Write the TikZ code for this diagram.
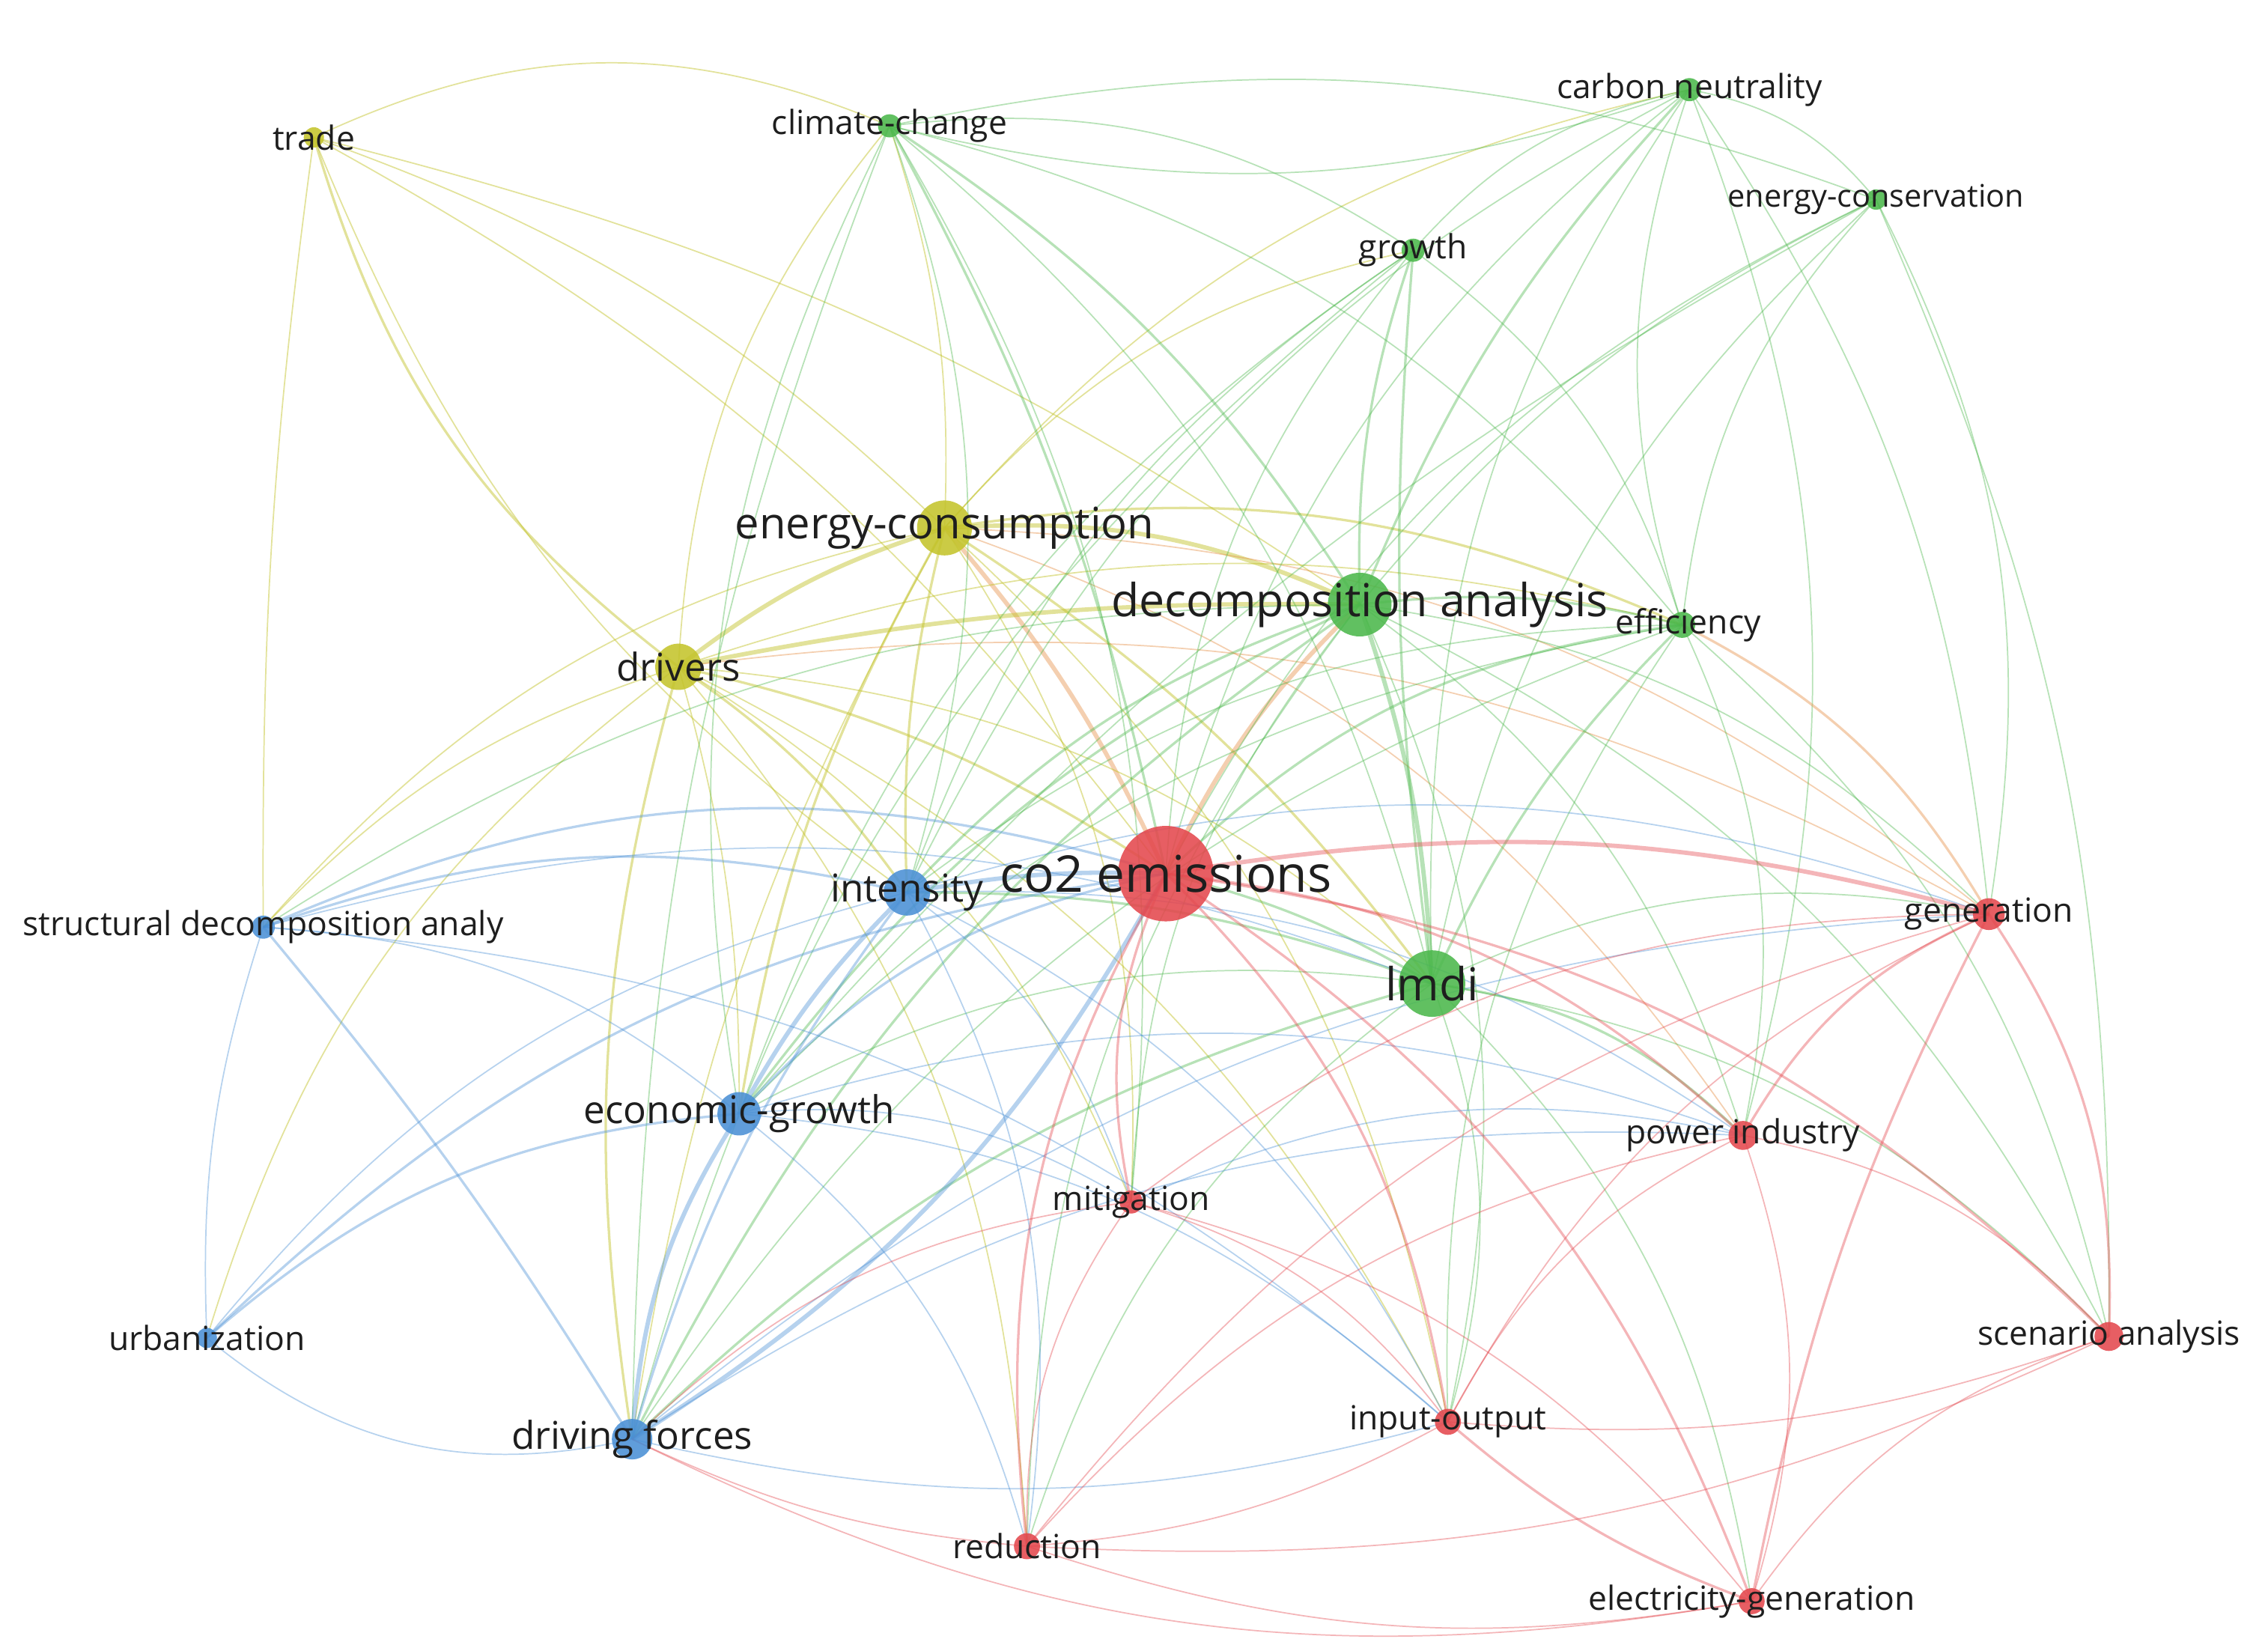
\documentclass[tikz,border=0pt]{standalone}
\usepackage{fontspec}
\setmainfont{Open Sans}
\definecolor{cr}{RGB}{228,72,78}
\definecolor{cg}{RGB}{76,184,76}
\definecolor{cb}{RGB}{74,144,214}
\definecolor{cy}{RGB}{196,196,44}
\definecolor{co}{RGB}{232,150,80}
\definecolor{txt}{RGB}{30,30,30}
\newcommand{\edgeL}[4][bend left=18]{\draw[#2] (#3) to[#1] (#4);}
\begin{document}
\begin{tikzpicture}[x=1pt,y=-1pt,
  er/.style={draw=cr,draw opacity=0.4},
  eg/.style={draw=cg,draw opacity=0.4},
  eb/.style={draw=cb,draw opacity=0.4},
  ey/.style={draw=cy,draw opacity=0.48},
  eo/.style={draw=co,draw opacity=0.45},
  w1/.style={line width=0.9pt},
  w2/.style={line width=1.7pt},
  w3/.style={line width=3pt},
  dot/.style={circle,inner sep=0pt,draw=none,fill opacity=0.88},
  lab/.style={text=txt,inner sep=0pt,anchor=center},
  fa/.style={font=\fontsize{23}{27}\selectfont},
  fb/.style={font=\fontsize{26.5}{30}\selectfont},
  fc/.style={font=\fontsize{30}{34}\selectfont},
  fd/.style={font=\fontsize{31.5}{36}\selectfont},
  fe/.style={font=\fontsize{35}{40}\selectfont}]
\useasboundingbox (0,0) rectangle (1568,1139);
\fill[white] (0,0) rectangle (1568,1139);
% positions
\coordinate (trade) at (217,95);
\coordinate (clim) at (615,87);
\coordinate (carb) at (1168,62);
\coordinate (econs) at (1297,138);
\coordinate (grow) at (977,173);
\coordinate (ecns) at (653,365);
\coordinate (deco) at (940,418);
\coordinate (effi) at (1163,432);
\coordinate (driv) at (469,461);
\coordinate (co2) at (806,604);
\coordinate (inte) at (627,617);
\coordinate (sda) at (182,641);
\coordinate (gene) at (1375,632);
\coordinate (lmdi) at (990,680);
\coordinate (egro) at (511,770);
\coordinate (powr) at (1205,785);
\coordinate (miti) at (782,831);
\coordinate (urba) at (143,925);
\coordinate (scen) at (1458,924);
\coordinate (dfor) at (437,995);
\coordinate (inou) at (1001,983);
\coordinate (redu) at (710,1069);
\coordinate (elec) at (1211,1107);
% yellow edges
\edgeL[bend right=18]{ey,w2}{trade}{driv}
\edgeL[bend right=16]{ey,w1}{trade}{inte}
\edgeL[bend left=12]{ey,w1}{trade}{co2}
\edgeL[bend left=24]{ey,w1}{trade}{clim}
\edgeL[bend left=10]{ey,w1}{trade}{deco}
\edgeL[bend left=12]{ey,w1}{trade}{ecns}
\edgeL[bend right=4]{ey,w1}{trade}{sda}
\edgeL[bend left=10]{ey,w3}{driv}{ecns}
\edgeL[bend left=8]{eo,w3}{ecns}{co2}
\edgeL[bend left=14]{ey,w3}{ecns}{deco}
\edgeL[bend left=16]{ey,w2}{ecns}{effi}
\edgeL[bend left=10]{ey,w2}{ecns}{lmdi}
\edgeL[bend left=8]{ey,w2}{inte}{ecns}
\edgeL[bend left=10]{ey,w2}{egro}{ecns}
\edgeL[bend left=10]{ey,w1}{dfor}{ecns}
\edgeL[bend left=10]{ey,w1}{clim}{ecns}
\edgeL{ey,w1}{ecns}{grow}
\edgeL[bend left=18]{eo,w1}{ecns}{gene}
\edgeL{ey,w1}{sda}{ecns}
\edgeL{ey,w1}{ecns}{miti}
\edgeL{ey,w1}{ecns}{inou}
\edgeL{ey,w1}{ecns}{carb}
\edgeL{eo,w1}{ecns}{powr}
\edgeL[bend left=6]{ey,w3}{driv}{deco}
\edgeL[bend left=10]{ey,w2}{driv}{co2}
\edgeL[bend left=10]{ey,w2}{driv}{inte}
\edgeL[bend left=8]{ey,w1}{driv}{egro}
\edgeL[bend left=12]{ey,w2}{dfor}{driv}
\edgeL{ey,w1}{driv}{lmdi}
\edgeL[bend left=16]{ey,w1}{driv}{effi}
\edgeL[bend left=14]{ey,w1}{sda}{driv}
\edgeL{ey,w1}{urba}{driv}
\edgeL{ey,w1}{driv}{clim}
\edgeL{ey,w1}{driv}{miti}
\edgeL{ey,w1}{driv}{inou}
\edgeL{ey,w1}{driv}{redu}
\edgeL[bend left=18]{eo,w1}{driv}{gene}
% green edges
\edgeL[bend left=8]{eg,w3}{deco}{lmdi}
\edgeL[bend left=10]{eo,w3}{co2}{deco}
\edgeL[bend left=14]{eg,w2}{inte}{deco}
\edgeL[bend left=10]{eg,w2}{deco}{effi}
\edgeL[bend left=10]{eg,w2}{deco}{grow}
\edgeL[bend left=12]{eg,w2}{clim}{deco}
\edgeL[bend left=10]{eg,w2}{deco}{carb}
\edgeL[bend left=12]{eg,w1}{deco}{econs}
\edgeL[bend left=14]{eg,w2}{egro}{deco}
\edgeL[bend left=14]{eg,w2}{dfor}{deco}
\edgeL{eg,w1}{deco}{gene}
\edgeL{eg,w1}{deco}{powr}
\edgeL{eg,w1}{deco}{inou}
\edgeL{eg,w1}{miti}{deco}
\edgeL{eg,w1}{redu}{deco}
\edgeL[bend left=16]{eg,w1}{sda}{deco}
\edgeL{eg,w1}{deco}{scen}
\edgeL[bend left=8]{eg,w2}{co2}{lmdi}
\edgeL[bend left=10]{eg,w2}{lmdi}{effi}
\edgeL[bend left=6]{eg,w2}{lmdi}{grow}
\edgeL{eg,w1}{lmdi}{carb}
\edgeL{eg,w1}{clim}{lmdi}
\edgeL[bend left=10]{eg,w2}{inte}{lmdi}
\edgeL{eg,w1}{egro}{lmdi}
\edgeL[bend left=14]{eg,w2}{dfor}{lmdi}
\edgeL{eg,w1}{lmdi}{gene}
\edgeL{eg,w2}{lmdi}{powr}
\edgeL{eg,w1}{lmdi}{elec}
\edgeL{eg,w1}{lmdi}{inou}
\edgeL{eg,w1}{lmdi}{scen}
\edgeL{eg,w1}{lmdi}{econs}
\edgeL{eg,w1}{redu}{lmdi}
\edgeL[bend left=8]{eg,w2}{clim}{co2}
\edgeL[bend left=20]{eg,w1}{clim}{grow}
\edgeL[bend right=16]{eg,w1}{clim}{carb}
\edgeL[bend left=16]{eg,w1}{clim}{econs}
\edgeL{eg,w1}{clim}{inte}
\edgeL{eg,w1}{egro}{clim}
\edgeL[bend left=10]{eg,w1}{dfor}{clim}
\edgeL{eg,w1}{clim}{effi}
\edgeL{eg,w1}{clim}{miti}
\edgeL{eg,w1}{co2}{grow}
\edgeL{eg,w1}{grow}{effi}
\edgeL{eg,w1}{grow}{carb}
\edgeL{eg,w1}{egro}{grow}
\edgeL{eg,w1}{inte}{grow}
\edgeL{eg,w1}{dfor}{grow}
\edgeL{eg,w1}{co2}{carb}
\edgeL{eg,w1}{effi}{carb}
\edgeL[bend left=20]{eg,w1}{carb}{econs}
\edgeL[bend left=14]{eg,w1}{carb}{gene}
\edgeL{eg,w1}{carb}{powr}
\edgeL{eg,w1}{inte}{carb}
\edgeL{eg,w1}{co2}{econs}
\edgeL{eg,w1}{effi}{econs}
\edgeL{eg,w1}{econs}{gene}
\edgeL[bend left=12]{eg,w1}{econs}{scen}
\edgeL[bend left=10]{eg,w1}{egro}{econs}
\edgeL{eg,w2}{co2}{effi}
\edgeL{eg,w1}{inte}{effi}
\edgeL[bend left=16]{eo,w2}{effi}{gene}
\edgeL{eg,w1}{effi}{powr}
\edgeL{eg,w1}{egro}{effi}
\edgeL{eg,w1}{dfor}{effi}
\edgeL{eg,w1}{effi}{scen}
\edgeL{eg,w1}{inou}{effi}
% blue edges
\edgeL[bend left=6]{eb,w3}{inte}{co2}
\edgeL[bend left=8]{eb,w3}{egro}{inte}
\edgeL[bend left=10]{eb,w2}{dfor}{inte}
\edgeL[bend left=16]{eb,w2}{sda}{inte}
\edgeL{eb,w1}{urba}{inte}
\edgeL{eb,w1}{inte}{miti}
\edgeL{eb,w1}{inte}{inou}
\edgeL{eb,w1}{inte}{redu}
\edgeL{eb,w1}{inte}{gene}
\edgeL{eb,w1}{inte}{powr}
\edgeL[bend left=20]{eb,w2}{sda}{co2}
\edgeL{eb,w1}{sda}{egro}
\edgeL[bend left=4]{eb,w2}{sda}{dfor}
\edgeL[bend left=10]{eb,w1}{urba}{sda}
\edgeL{eb,w1}{sda}{inou}
\edgeL{eb,w1}{sda}{lmdi}
\edgeL{eb,w2}{egro}{co2}
\edgeL[bend left=14]{eb,w3}{dfor}{egro}
\edgeL{eb,w2}{urba}{egro}
\edgeL{eb,w1}{egro}{miti}
\edgeL{eb,w1}{egro}{powr}
\edgeL{eb,w1}{egro}{redu}
\edgeL{eb,w1}{egro}{inou}
\edgeL{eb,w2}{urba}{co2}
\edgeL[bend right=26]{eb,w1}{urba}{dfor}
\edgeL[bend right=14]{eb,w3}{dfor}{co2}
\edgeL[bend right=14]{eb,w1}{dfor}{inou}
\edgeL[bend right=10]{er,w1}{dfor}{redu}
\edgeL{eb,w1}{dfor}{powr}
\edgeL{eb,w1}{dfor}{gene}
\edgeL{er,w1}{dfor}{miti}
\edgeL[bend right=18]{er,w1}{dfor}{elec}
% red edges
\edgeL[bend left=12]{er,w3}{co2}{gene}
\edgeL{er,w2}{co2}{powr}
\edgeL{er,w2}{co2}{inou}
\edgeL{er,w2}{redu}{co2}
\edgeL{er,w2}{miti}{co2}
\edgeL{er,w2}{co2}{elec}
\edgeL{er,w2}{co2}{scen}
\edgeL{er,w2}{powr}{gene}
\edgeL{er,w2}{gene}{scen}
\edgeL[bend left=8]{er,w2}{elec}{gene}
\edgeL{er,w1}{inou}{gene}
\edgeL{er,w1}{redu}{gene}
\edgeL{er,w1}{miti}{gene}
\edgeL{er,w1}{powr}{scen}
\edgeL{er,w1}{powr}{elec}
\edgeL{er,w1}{inou}{powr}
\edgeL{er,w1}{redu}{powr}
\edgeL{eb,w1}{miti}{powr}
\edgeL[bend right=12]{er,w1}{redu}{inou}
\edgeL[bend right=10]{er,w2}{inou}{elec}
\edgeL[bend right=12]{er,w1}{inou}{scen}
\edgeL{er,w1}{miti}{inou}
\edgeL{er,w1}{redu}{miti}
\edgeL[bend right=14]{er,w1}{redu}{elec}
\edgeL[bend right=14]{er,w1}{redu}{scen}
\edgeL{er,w1}{miti}{elec}
\edgeL{er,w1}{elec}{scen}
% nodes
\node[dot,fill=cy,minimum size=14pt] (tradeN) at (trade) {};
\node[dot,fill=cg,minimum size=16pt] (climN) at (clim) {};
\node[dot,fill=cg,minimum size=16pt] (carbN) at (carb) {};
\node[dot,fill=cg,minimum size=14pt] (econsN) at (econs) {};
\node[dot,fill=cg,minimum size=16pt] (growN) at (grow) {};
\node[dot,fill=cy,minimum size=38pt] (ecnsN) at (ecns) {};
\node[dot,fill=cg,minimum size=44pt] (decoN) at (deco) {};
\node[dot,fill=cg,minimum size=18pt] (effiN) at (effi) {};
\node[dot,fill=cy,minimum size=32pt] (drivN) at (driv) {};
\node[dot,fill=cr,minimum size=66pt] (co2N) at (co2) {};
\node[dot,fill=cb,minimum size=32pt] (inteN) at (inte) {};
\node[dot,fill=cb,minimum size=16pt] (sdaN) at (sda) {};
\node[dot,fill=cr,minimum size=22pt] (geneN) at (gene) {};
\node[dot,fill=cg,minimum size=46pt] (lmdiN) at (lmdi) {};
\node[dot,fill=cb,minimum size=30pt] (egroN) at (egro) {};
\node[dot,fill=cr,minimum size=20pt] (powrN) at (powr) {};
\node[dot,fill=cr,minimum size=16pt] (mitiN) at (miti) {};
\node[dot,fill=cb,minimum size=14pt] (urbaN) at (urba) {};
\node[dot,fill=cr,minimum size=20pt] (scenN) at (scen) {};
\node[dot,fill=cb,minimum size=28pt] (dforN) at (dfor) {};
\node[dot,fill=cr,minimum size=18pt] (inouN) at (inou) {};
\node[dot,fill=cr,minimum size=18pt] (reduN) at (redu) {};
\node[dot,fill=cr,minimum size=18pt] (elecN) at (elec) {};
% labels
\node[lab,fa] (tradeL) at (trade) {trade};
\node[lab,fa] (climL) at (clim) {climate-change};
\node[lab,fa] (carbL) at (carb) {carbon neutrality};
\node[lab,fa,font=\fontsize{21.5}{25}\selectfont] (econsL) at (econs) {energy-conservation};
\node[lab,fa] (growL) at (grow) {growth};
\node[lab,fc] (ecnsL) at (ecns) {energy-consumption};
\node[lab,fd] (decoL) at (deco) {decomposition analysis};
\node[lab,fa] (effiL) at (1167,432) {efficiency};
\node[lab,fb] (drivL) at (driv) {drivers};
\node[lab,fe] (co2L) at (co2) {co2 emissions};
\node[lab,fb] (inteL) at (inte) {intensity};
\node[lab,fa] (sdaL) at (sda) {structural decomposition analy};
\node[lab,fa] (geneL) at (gene) {generation};
\node[lab,fd] (lmdiL) at (lmdi) {lmdi};
\node[lab,fb] (egroL) at (egro) {economic-growth};
\node[lab,fa] (powrL) at (powr) {power industry};
\node[lab,fa] (mitiL) at (miti) {mitigation};
\node[lab,fa] (urbaL) at (urba) {urbanization};
\node[lab,fa] (scenL) at (scen) {scenario analysis};
\node[lab,fb] (dforL) at (dfor) {driving forces};
\node[lab,fa] (inouL) at (inou) {input-output};
\node[lab,fa] (reduL) at (redu) {reduction};
\node[lab,fa] (elecL) at (elec) {electricity-generation};
\end{tikzpicture}
\end{document}
